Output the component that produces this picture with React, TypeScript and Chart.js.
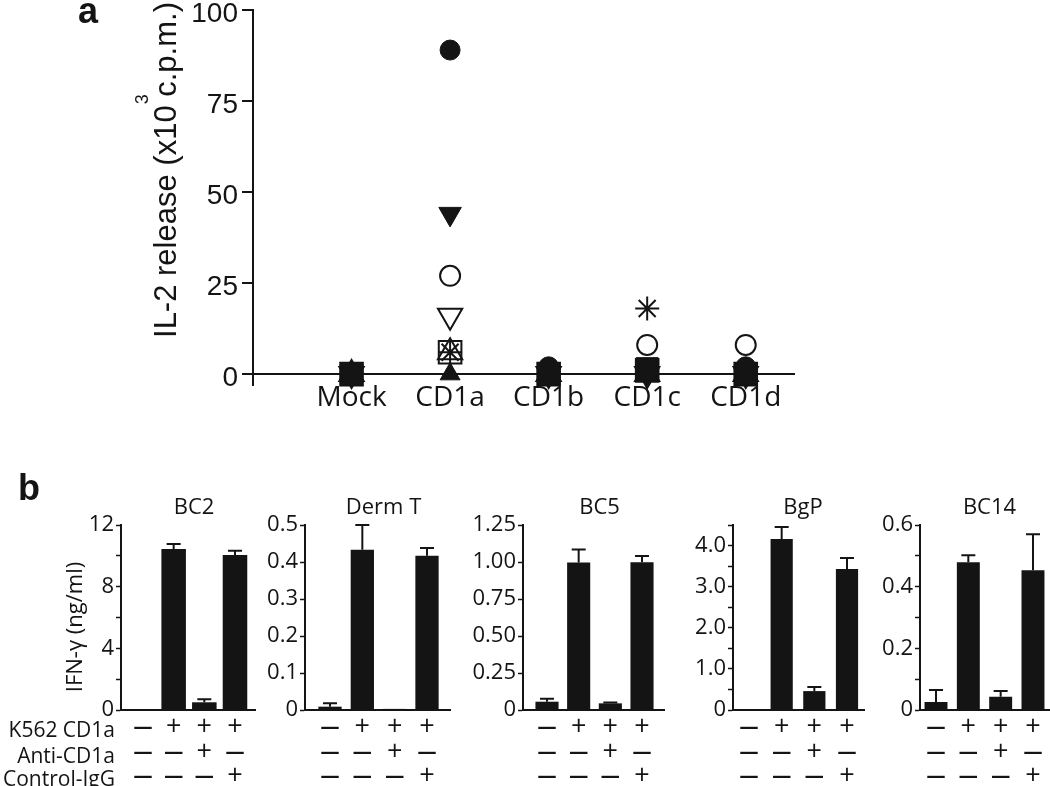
import React, { useEffect, useRef } from "react";
import { Chart, registerables } from "chart.js";

Chart.register(...registerables);

const INK = "#141414";

// ---------- Panel a data ----------
const categoriesA = ["Mock", "CD1a", "CD1b", "CD1c", "CD1d"];
const yTicksA = [0, 25, 50, 75, 100];
const filledCircleVals = [0, 89, 2, 1, 2];
const filledDownTriangleVals = [0, 44, 0, 0, 0];
const openCircleVals = [0, 27, 0, 8, 8];
const openDownTriangleVals = [0, 16, 0, 0, 0];
const openSquareVals = [0, 6, 0, 1, 0];
const asteriskVals = [0, 6, 0, 18, 0];
const openUpTriangleVals = [0, 6, 0, 0, 0];
const filledUpTriangleVals = [0, 0, 0, 0, 0];
const filledSquareVals = [0, null, 0, 1.5, 0];

// ---------- Panel b data ----------
const k562Row = ["—", "+", "+", "+"];
const antiCD1aRow = ["—", "—", "+", "—"];
const controlIgGRow = ["—", "—", "—", "+"];
const rowLabels = ["K562 CD1a", "Anti-CD1a", "Control-IgG"];

const bc2Values = [0, 10.45, 0.5, 10.05];
const bc2Errors = [0, 0.32, 0.2, 0.28];
const bc2Ticks = [0, 2, 4, 6, 8, 10, 12];
const bc2TickLabels = ["0", "", "4", "", "8", "", "12"];

const dermValues = [0.009, 0.433, 0.003, 0.417];
const dermErrors = [0.009, 0.067, 0, 0.021];
const dermTicks = [0, 0.1, 0.2, 0.3, 0.4, 0.5];
const dermTickLabels = ["0", "0.1", "0.2", "0.3", "0.4", "0.5"];

const bc5Values = [0.056, 0.997, 0.045, 0.998];
const bc5Errors = [0.02, 0.088, 0.006, 0.042];
const bc5Ticks = [0, 0.25, 0.5, 0.75, 1, 1.25];
const bc5TickLabels = ["0", "0.25", "0.50", "0.75", "1.00", "1.25"];

const bgpValues = [0.02, 4.16, 0.46, 3.43];
const bgpErrors = [0, 0.29, 0.1, 0.27];
const bgpTicks = [0, 0.5, 1, 1.5, 2, 2.5, 3, 3.5, 4, 4.5];
const bgpTickLabels = ["0", "", "1.0", "", "2.0", "", "3.0", "", "4.0", ""];

const bc14Values = [0.026, 0.479, 0.043, 0.453];
const bc14Errors = [0.039, 0.023, 0.019, 0.117];
const bc14Ticks = [0, 0.1, 0.2, 0.3, 0.4, 0.5, 0.6];
const bc14TickLabels = ["0", "", "0.2", "", "0.4", "", "0.6"];

// ---------- styles / layout ----------
const seriesA = [
  { values: openCircleVals, style: "circle", radius: 10, rotation: 0, filled: false },
  { values: openDownTriangleVals, style: "triangle", radius: 14, rotation: 180, filled: false },
  { values: openSquareVals, style: "rect", radius: 16, rotation: 0, filled: false },
  { values: asteriskVals, style: "star", radius: 12, rotation: 0, filled: false },
  { values: openUpTriangleVals, style: "triangle", radius: 14, rotation: 0, filled: false },
  { values: filledCircleVals, style: "circle", radius: 10, rotation: 0, filled: true },
  { values: filledDownTriangleVals, style: "triangle", radius: 13, rotation: 180, filled: true },
  { values: filledUpTriangleVals, style: "triangle", radius: 11.5, rotation: 0, filled: true },
  { values: filledSquareVals, style: "rect", radius: 15.5, rotation: 0, filled: true },
];

const panelsB = [
  { name: "BC2", values: bc2Values, errors: bc2Errors, ticks: bc2Ticks, tickLabels: bc2TickLabels, yMax: 12, left: 0, axisX: 121, right: 256, xMin: 0.283, xMax: 4.685, barPct: 0.8 },
  { name: "Derm T", values: dermValues, errors: dermErrors, ticks: dermTicks, tickLabels: dermTickLabels, yMax: 0.5, left: 250, axisX: 305, right: 451, xMin: 0.227, xMax: 4.742, barPct: 0.72 },
  { name: "BC5", values: bc5Values, errors: bc5Errors, ticks: bc5Ticks, tickLabels: bc5TickLabels, yMax: 1.25, left: 462, axisX: 523, right: 665, xMin: 0.242, xMax: 4.726, barPct: 0.73 },
  { name: "BgP", values: bgpValues, errors: bgpErrors, ticks: bgpTicks, tickLabels: bgpTickLabels, yMax: 4.5, left: 680, axisX: 733, right: 865, xMin: 0.51, xMax: 4.551, barPct: 0.68 },
  { name: "BC14", values: bc14Values, errors: bc14Errors, ticks: bc14Ticks, tickLabels: bc14TickLabels, yMax: 0.6, left: 868, axisX: 920, right: 1050, xMin: 0.505, xMax: 4.526, barPct: 0.71 },
];

const B_TOP = 466;
const B_HEIGHT = 320;
const B_PLOT_TOP = 525;
const B_PLOT_BOTTOM = 710;
const OPEN = '"Open Sans", "Noto Sans", sans-serif';
const ARIAL = '"Liberation Sans", Arial, sans-serif';

function panelAPlugin() {
  return {
    id: "panelAdecor",
    afterDraw(chart: any) {
      const ctx = chart.ctx;
      ctx.save();
      ctx.fillStyle = INK;
      ctx.font = `bold 36px ${ARIAL}`;
      ctx.textAlign = "left";
      ctx.textBaseline = "alphabetic";
      ctx.fillText("a", 78, 23);
      const main1 = "IL-2 release (x10";
      const main2 = " c.p.m.)";
      ctx.font = `31px ${ARIAL}`;
      const w1 = ctx.measureText(main1).width;
      const w2 = ctx.measureText(main2).width;
      const total = w1 + w2;
      ctx.translate(176, 170);
      ctx.rotate(-Math.PI / 2);
      ctx.fillText(main1, -total / 2, 0);
      ctx.fillText(main2, -total / 2 + w1, 0);
      ctx.font = `18px ${ARIAL}`;
      ctx.fillText("3", -total / 2 + w1 + 1, -28);
      ctx.restore();
    },
  };
}

function makeDecor(p: any, first: boolean) {
  return {
    id: "decorB",
    afterDatasetsDraw(chart: any) {
      const ctx = chart.ctx;
      const xs = chart.scales.x;
      const ys = chart.scales.y;
      ctx.save();
      ctx.strokeStyle = INK;
      ctx.lineWidth = 2;
      p.values.forEach((v: number, i: number) => {
        const e = p.errors[i];
        if (!e) return;
        const x = xs.getPixelForValue(i + 1);
        const y0 = ys.getPixelForValue(v);
        const y1 = ys.getPixelForValue(v + e);
        ctx.beginPath();
        ctx.moveTo(x, y0);
        ctx.lineTo(x, y1);
        ctx.moveTo(x - 7, y1);
        ctx.lineTo(x + 7, y1);
        ctx.stroke();
      });
      ctx.restore();
    },
    afterDraw(chart: any) {
      const ctx = chart.ctx;
      const xs = chart.scales.x;
      ctx.save();
      ctx.fillStyle = INK;
      ctx.font = `22px ${OPEN}`;
      ctx.textAlign = "center";
      ctx.textBaseline = "middle";
      const xc = (xs.getPixelForValue(1) + xs.getPixelForValue(4)) / 2 + 5;
      ctx.fillText(p.name, xc, 508 - B_TOP);
      const rows = [k562Row, antiCD1aRow, controlIgGRow];
      const rowY = [727, 752, 776].map((y) => y - B_TOP);
      rows.forEach((row, r) => {
        row.forEach((s, i) => {
          const x = xs.getPixelForValue(i + 1);
          if (s === "+") {
            ctx.font = `27px ${OPEN}`;
            ctx.fillText(s, x, rowY[r]);
          } else {
            ctx.font = `bold 19px ${OPEN}`;
            ctx.fillText(s, x, rowY[r] + 1);
          }
        });
      });
      if (first) {
        ctx.font = `21px ${OPEN}`;
        ctx.textAlign = "right";
        ctx.textBaseline = "alphabetic";
        const baseY = [737, 763, 786].map((y) => y - B_TOP);
        rowLabels.forEach((t, r) => ctx.fillText(t, 115, baseY[r], 112));
        ctx.font = `bold 36px ${ARIAL}`;
        ctx.textAlign = "left";
        ctx.fillText("b", 18, 500 - B_TOP);
        ctx.font = `22px ${OPEN}`;
        ctx.textAlign = "center";
        ctx.textBaseline = "middle";
        ctx.translate(76, 627 - B_TOP);
        ctx.rotate(-Math.PI / 2);
        ctx.fillText("IFN-γ (ng/ml)", 0, 0);
      }
      ctx.restore();
    },
  };
}

export default function App() {
  const aRef = useRef<HTMLCanvasElement | null>(null);
  const bRefs = useRef<(HTMLCanvasElement | null)[]>([]);

  useEffect(() => {
    const charts: Chart[] = [];
    if (aRef.current) {
      charts.push(
        new Chart(aRef.current, {
          type: "scatter",
          data: {
            datasets: seriesA.map((s) => ({
              data: s.values.map((v, i) => ({ x: i + 1, y: v })),
              pointStyle: s.style as any,
              pointRadius: s.radius,
              pointRotation: s.rotation,
              backgroundColor: s.filled ? INK : "rgba(0,0,0,0)",
              borderColor: INK,
              borderWidth: s.filled ? 1 : 2,
              order: s.filled ? 0 : 1,
              clip: false as any,
              showLine: false,
            })),
          },
          options: {
            animation: false,
            responsive: false,
            devicePixelRatio: 1,
            layout: { autoPadding: false, padding: { top: 10, right: 255, left: 0, bottom: 0 } },
            plugins: { legend: { display: false }, tooltip: { enabled: false } },
            scales: {
              x: {
                type: "linear",
                min: 0,
                max: 5.5,
                afterBuildTicks: (s: any) => {
                  s.ticks = categoriesA.map((_, i) => ({ value: i + 1 }));
                },
                afterFit: (s: any) => {
                  s.height = 45;
                  s.paddingLeft = 0;
                  s.paddingRight = 0;
                },
                ticks: {
                  callback: (v: any) => categoriesA[Number(v) - 1] ?? "",
                  font: { family: OPEN, size: 28 },
                  color: INK,
                  padding: -4,
                  maxRotation: 0,
                  autoSkip: false,
                },
                grid: { display: false, drawTicks: false },
                border: { display: false },
              },
              y: {
                min: -3,
                max: 100,
                afterBuildTicks: (s: any) => {
                  s.ticks = yTicksA.map((v) => ({ value: v }));
                },
                afterFit: (s: any) => {
                  s.width = 253;
                  s.paddingTop = 0;
                  s.paddingBottom = 0;
                },
                ticks: {
                  font: { family: ARIAL, size: 28 },
                  color: INK,
                  padding: 4,
                  labelOffset: 4,
                  autoSkip: false,
                },
                grid: {
                  drawOnChartArea: true,
                  color: (c: any) => (c.tick && c.tick.value === 0 ? INK : "rgba(0,0,0,0)"),
                  lineWidth: 2,
                  tickLength: 11,
                  tickColor: INK,
                  tickWidth: 2,
                },
                border: { display: true, color: INK, width: 2 },
              },
            },
          },
          plugins: [panelAPlugin()],
        } as any)
      );
    }
    panelsB.forEach((p, idx) => {
      const el = bRefs.current[idx];
      if (!el) return;
      charts.push(
        new Chart(el, {
          type: "bar",
          data: {
            datasets: [
              {
                data: p.values.map((v, i) => ({ x: i + 1, y: v })),
                backgroundColor: INK,
                borderWidth: 0,
                barPercentage: p.barPct,
                categoryPercentage: 1,
              },
            ],
          },
          options: {
            animation: false,
            responsive: false,
            devicePixelRatio: 1,
            layout: { autoPadding: false, padding: { top: B_PLOT_TOP - B_TOP, left: 0, right: 0, bottom: 0 } },
            plugins: { legend: { display: false }, tooltip: { enabled: false } },
            scales: {
              x: {
                type: "linear",
                min: p.xMin,
                max: p.xMax,
                offset: false,
                grid: { display: false, offset: false },
                ticks: { display: false },
                border: { display: true, color: INK, width: 2 },
                afterFit: (s: any) => {
                  s.height = B_TOP + B_HEIGHT - B_PLOT_BOTTOM;
                  s.paddingLeft = 0;
                  s.paddingRight = 0;
                },
              },
              y: {
                min: 0,
                max: p.yMax,
                afterBuildTicks: (s: any) => {
                  s.ticks = p.ticks.map((v) => ({ value: v }));
                },
                afterFit: (s: any) => {
                  s.width = p.axisX - p.left;
                  s.paddingTop = 0;
                  s.paddingBottom = 0;
                },
                ticks: {
                  callback: (_v: any, i: number) => p.tickLabels[i] ?? "",
                  font: { family: OPEN, size: 22 },
                  color: INK,
                  padding: 2,
                  autoSkip: false,
                },
                grid: {
                  drawOnChartArea: false,
                  tickLength: 5,
                  tickColor: INK,
                  tickWidth: 1.5,
                },
                border: { display: true, color: INK, width: 2 },
              },
            },
          },
          plugins: [makeDecor(p, idx === 0)],
        } as any)
      );
    });
    return () => charts.forEach((c) => c.destroy());
  }, []);

  return (
    <div
      style={{
        position: "absolute",
        left: 0,
        top: 0,
        width: 1050,
        height: 786,
        background: "#fff",
        overflow: "hidden",
      }}
    >
      <canvas ref={aRef} width={1050} height={430} style={{ position: "absolute", left: 0, top: 0 }} />
      {panelsB.map((p, i) => (
        <canvas
          key={p.name}
          ref={(el) => {
            bRefs.current[i] = el;
          }}
          width={p.right - p.left}
          height={B_HEIGHT}
          style={{ position: "absolute", left: p.left, top: B_TOP }}
        />
      ))}
    </div>
  );
}
